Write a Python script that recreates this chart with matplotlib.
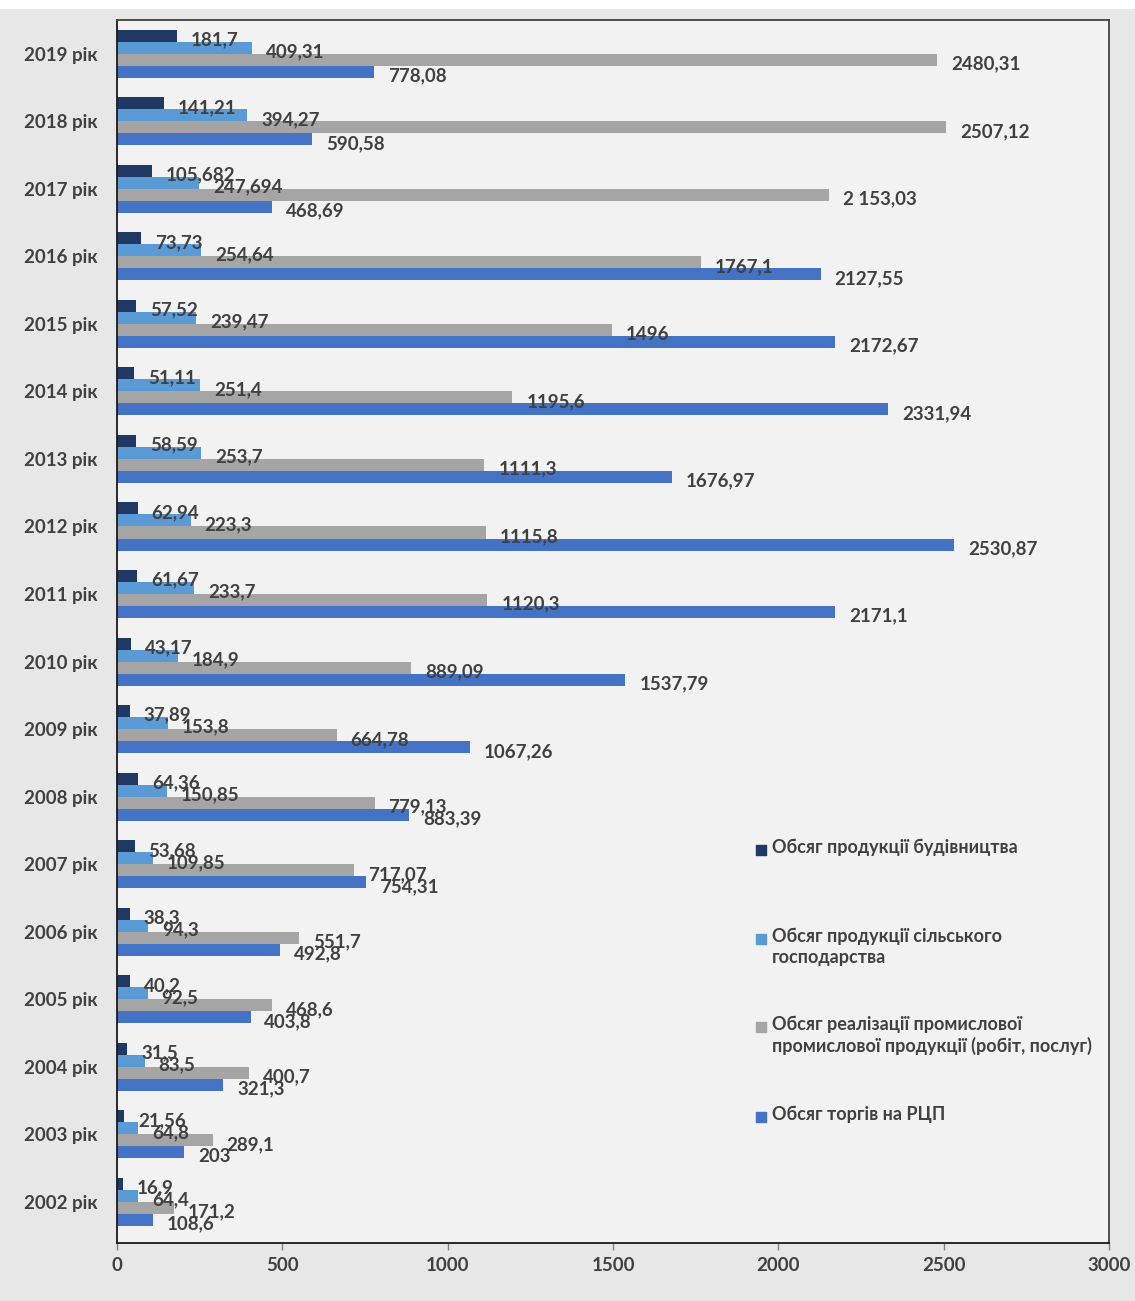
import numpy as np
import matplotlib
matplotlib.use("Agg")
import matplotlib.pyplot as plt
from matplotlib.patches import Rectangle

plt.rcParams['font.family'] = ['Lato', 'DejaVu Sans']
plt.rcParams['font.weight'] = 'bold'

# Years from bottom to top of the chart
years = [f"{y} рік" for y in range(2002, 2020)]

# Values as printed in the source table (comma decimal separator)
construction = ["16,9", "21,56", "31,5", "40,2", "38,3", "53,68", "64,36", "37,89", "43,17",
                "61,67", "62,94", "58,59", "51,11", "57,52", "73,73", "105,682", "141,21", "181,7"]
agriculture = ["64,4", "64,8", "83,5", "92,5", "94,3", "109,85", "150,85", "153,8", "184,9",
               "233,7", "223,3", "253,7", "251,4", "239,47", "254,64", "247,694", "394,27", "409,31"]
industry = ["171,2", "289,1", "400,7", "468,6", "551,7", "717,07", "779,13", "664,78", "889,09",
            "1120,3", "1115,8", "1111,3", "1195,6", "1496", "1767,1", "2 153,03", "2507,12", "2480,31"]
rcp_trade = ["108,6", "203", "321,3", "403,8", "492,8", "754,31", "883,39", "1067,26", "1537,79",
             "2171,1", "2530,87", "1676,97", "2331,94", "2172,67", "2127,55", "468,69", "590,58", "778,08"]

series_names = [
    "Обсяг продукції будівництва",
    "Обсяг продукції сільського\nгосподарства",
    "Обсяг реалізації промислової\nпромислової продукції (робіт, послуг)",
    "Обсяг торгів на РЦП",
]
series_colors = ["#1f3864", "#5b9bd5", "#a5a5a5", "#4472c4"]
x_ticks = [0, 500, 1000, 1500, 2000, 2500, 3000]

TEXT = "#404040"


def to_num(s):
    return float(s.replace(" ", "").replace(",", "."))


fig = plt.figure(figsize=(11.35, 13.01), dpi=100, facecolor="#e7e7e7")
# thin white strip along the top edge
fig.patches.append(Rectangle((0, 1 - 9 / 1301), 1, 9 / 1301, transform=fig.transFigure,
                             facecolor="white", edgecolor="none"))

ax = fig.add_axes([117 / 1135, 1 - 1243 / 1301, 992 / 1135, 1223 / 1301])
ax.set_facecolor("#f2f2f2")

pos = np.arange(len(years))
bar_h = 0.178
offsets = [1.5, 0.5, -0.5, -1.5]

for labels, color, off in zip([construction, agriculture, industry, rcp_trade], series_colors, offsets):
    vals = [to_num(s) for s in labels]
    ypos = pos + off * bar_h
    ax.barh(ypos, vals, height=bar_h, color=color, edgecolor="none")
    for v, yy, s in zip(vals, ypos, labels):
        ax.annotate(s, xy=(v, yy), xytext=(10, -3), textcoords="offset points",
                    va="center", ha="left", fontsize=13.5, color=TEXT, fontweight="bold")

ax.set_xlim(0, 3000)
ax.set_ylim(-0.61, 17.5)
ax.set_yticks(pos)
ax.set_yticklabels(years)
ax.set_xticks(x_ticks)
ax.set_xticklabels([str(t) for t in x_ticks])
ax.tick_params(axis="y", length=0, pad=14, labelsize=13.5, labelcolor=TEXT)
ax.tick_params(axis="x", length=5, width=1, color="#808080", pad=5, labelsize=13.5, labelcolor=TEXT)

for side in ["left", "bottom"]:
    ax.spines[side].set_color("#1a1a1a")
    ax.spines[side].set_linewidth(1.3)
for side in ["top", "right"]:
    ax.spines[side].set_color("#404040")
    ax.spines[side].set_linewidth(1.3)

# Legend drawn as evenly spaced entries in the lower right of the plot area
entry_y = [0.3213, 0.2486, 0.1766, 0.1030]
line_px = 11 / 1223
for name, color, ey in zip(series_names, series_colors, entry_y):
    ax.scatter([0.649], [ey], transform=ax.transAxes, marker="s", s=55,
               color=color, clip_on=False, zorder=5)
    ax.text(0.660, ey + line_px, name, transform=ax.transAxes, va="top", ha="left",
            fontsize=13, color=TEXT, fontweight="bold", linespacing=1.25)

fig.savefig("out.png", dpi=100, facecolor=fig.get_facecolor())
